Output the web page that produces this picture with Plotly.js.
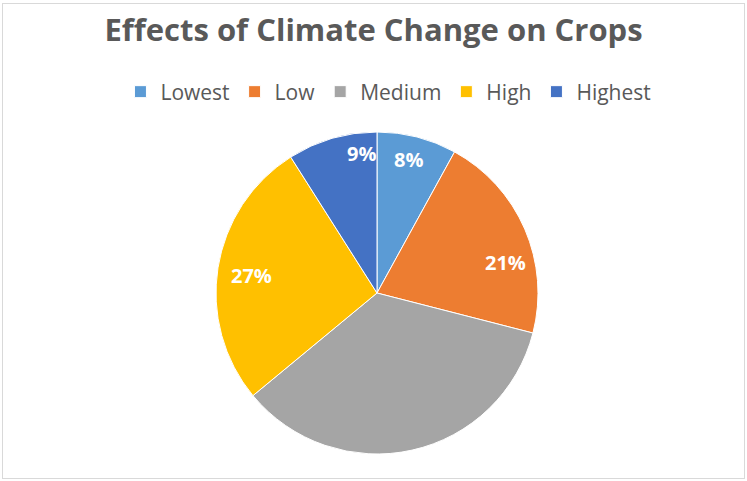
<!DOCTYPE html>
<html>
<head>
<meta charset="utf-8">
<script src="https://cdn.plot.ly/plotly-3.0.1.min.js"></script>
<style>
html,body{margin:0;padding:0;background:#fff;}
#frame{position:absolute;left:2px;top:3px;width:741px;height:474px;border:1px solid #d9d9d9;}
#chart{position:absolute;left:0;top:0;width:747px;height:481px;}
</style>
</head>
<body>
<div id="frame"></div>
<div id="chart"></div>
<script>
const categories = ["Lowest", "Low", "Medium", "High", "Highest"];
const values = [8, 21, 35, 27, 9];
const labelsShown = ["8%", "21%", "", "27%", "9%"];
const colors = ["#5B9BD5", "#ED7D31", "#A5A5A5", "#FFC000", "#4472C4"];

// pie geometry and label placement style (layout, not data)
const W = 747, H = 481;
const cx = 377, cy = 293, R = 161;
const labelRadius = [0.85, 0.82, 0.8, 0.79, 0.87];
const labelAngleNudgeDeg = [-1, 10, 0, -1, 10];

const trace = {
  type: "pie",
  labels: categories,
  values: values,
  textinfo: "none",
  sort: false,
  direction: "clockwise",
  rotation: 0,
  marker: {colors: colors, line: {color: "#ffffff", width: 1}},
  domain: {x: [(cx - R) / W, (cx + R) / W], y: [1 - (cy + R) / H, 1 - (cy - R) / H]},
  hoverinfo: "label+percent"
};

// data labels at each slice's mid-angle, derived from the values
const total = values.reduce((a, b) => a + b, 0);
let cum = 0;
const annotations = [];
values.forEach((v, i) => {
  const mid = (cum + v / 2) / total * 2 * Math.PI + labelAngleNudgeDeg[i] * Math.PI / 180;
  cum += v;
  if (!labelsShown[i]) return;
  const px = cx + labelRadius[i] * R * Math.sin(mid);
  const py = cy - labelRadius[i] * R * Math.cos(mid);
  annotations.push({
    text: "<b>" + labelsShown[i] + "</b>",
    x: px / W, y: 1 - py / H, xref: "paper", yref: "paper",
    xanchor: "center", yanchor: "middle", showarrow: false,
    font: {family: "'Open Sans', sans-serif", size: 20, color: "#ffffff"}
  });
});

const layout = {
  width: W,
  height: H,
  margin: {l: 0, r: 0, t: 0, b: 0},
  paper_bgcolor: "rgba(0,0,0,0)",
  plot_bgcolor: "rgba(0,0,0,0)",
  title: {
    text: "<b>Effects of Climate Change on Crops</b>",
    font: {family: "'Open Sans', sans-serif", size: 31, color: "#595959"},
    x: 0.5, xanchor: "center", y: 1 - 30 / H, yanchor: "middle"
  },
  showlegend: true,
  legend: {
    orientation: "h",
    x: 0.52, xanchor: "center",
    y: 1 - 92 / H, yanchor: "middle",
    font: {family: "'Open Sans', sans-serif", size: 21, color: "#595959"},
    traceorder: "normal"
  },
  annotations: annotations
};

Plotly.newPlot("chart", [trace], layout, {displayModeBar: false, staticPlot: true});
</script>
</body>
</html>
